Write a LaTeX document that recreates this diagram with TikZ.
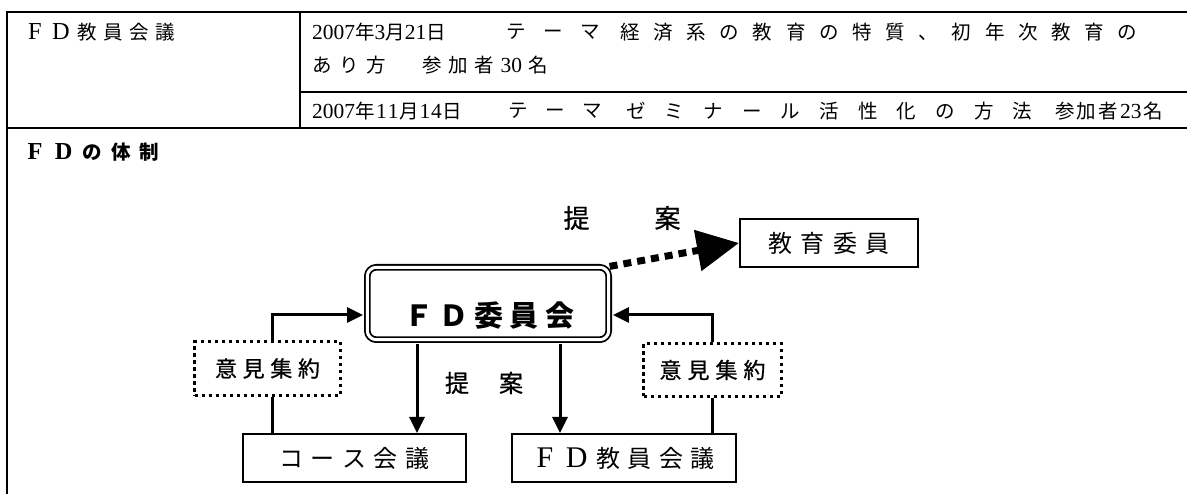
\documentclass[tikz,border=0pt]{standalone}
\usepackage{fontspec}
\setmainfont{Noto Sans CJK JP}
\newfontfamily\jpmed[FakeBold=0.8]{Noto Sans CJK JP}
\newfontfamily\ser{Liberation Serif}
\usetikzlibrary{arrows.meta}
\makeatletter
\newcommand\spreadtext[2]{\hbox to #1{\def\sp@sep{}\@tfor\sp@tok:=#2\do{\sp@sep\sp@tok\def\sp@sep{\hfil}}}}
\makeatother
\newcommand\fwl[1]{\makebox[1em]{\scalebox{1.25}{\ser #1}}}
\newcommand\fwb[1]{\makebox[1em]{\scalebox{1.25}{\ser\bfseries #1}}}
\newcommand\dg[1]{\scalebox{1.1}{\ser #1}}
\begin{document}
\begin{tikzpicture}[x=1pt,y=-1pt,
  tbl/.style={line width=2.2pt},
  txt/.style={inner sep=0pt, anchor=west, font=\fontsize{19.5pt}{19.5pt}\selectfont},
  box/.style={draw, line width=2pt, inner sep=0pt, font=\fontsize{24pt}{24pt}\selectfont},
  dbox/.style={draw, line width=3.2pt, dash pattern=on 3.5pt off 3.5pt, inner sep=0pt, font=\fontsize{22pt}{22pt}\selectfont\jpmed},
  fdbox/.style={draw, rounded corners=9pt, double=white, double distance=3pt, line width=1.8pt, inner sep=0pt},
  arr/.style={line width=3pt, -{Triangle[length=16pt,width=15pt]}},
  ln/.style={line width=3pt},
  dotarr/.style={line width=7pt, dash pattern=on 8pt off 6pt, -{Triangle[length=42pt,width=40pt]}},
  lbl/.style={inner sep=0pt}
]
\useasboundingbox (0,0) rectangle (1187,494);
% table
\draw[tbl] (7,12) -- (1187,12);
\draw[tbl] (7,11) -- (7,494);
\draw[tbl] (300,12) -- (300,128);
\draw[tbl] (300,92) -- (1187,92);
\draw[tbl] (7,128) -- (1187,128);
\node[txt] (c1) at (25,32) {\spreadtext{150pt}{{{\fwl F}}{{\fwl D}}教員会議}};
\node[txt] (r1a) at (312,32) {\dg{2007}年\dg{3}月\dg{21}日};
\node[txt] (r1b) at (506,32) {\spreadtext{94pt}{テーマ}};
\node[txt] (r1c) at (620,32) {\spreadtext{517pt}{経済系の教育の特質、初年次教育の}};
\node[txt] (r2a) at (312,65) {\spreadtext{74pt}{あり方}};
\node[txt] (r2b) at (422,65) {\spreadtext{126pt}{参加者{{\dg{30}}}名}};
\node[txt] (r3a) at (312,111) {\spreadtext{150pt}{{{\dg{2007}}}年{{\dg{1}}}{{\dg{1}}}月{{\dg{1}}}{{\dg{4}}}日}};
\node[txt] (r3b) at (508,111) {\spreadtext{94pt}{テーマ}};
\node[txt] (r3c) at (626,111) {\spreadtext{406pt}{ゼミナール活性化の方法}};
\node[txt] (r3d) at (1055,111) {\spreadtext{108pt}{参加者{{\dg{23}}}名}};
\node[txt, font=\fontsize{19.5pt}{19.5pt}\selectfont\bfseries] (h2) at (25,152) {\spreadtext{134pt}{{{\fwb F}}{{\fwb D}}の体制}};
% diagram
\node[fdbox, minimum width=241.4pt, minimum height=72.4pt] (fdc) at (488,303.5) {};
\node[lbl, font=\fontsize{29pt}{29pt}\selectfont\bfseries] (fdt) at (489,316) {\spreadtext{170pt}{ＦＤ委員会}};
\node[box, minimum width=178pt, minimum height=48pt] (kyoiku) at (829,243) {\spreadtext{122pt}{教育委員}};
\node[box, minimum width=223pt, minimum height=48pt] (course) at (354.5,458) {\spreadtext{150pt}{コース会議}};
\node[box, minimum width=224pt, minimum height=48pt] (fdk) at (624,458) {\spreadtext{182pt}{{{\fwl F}}{{\fwl D}}教員会議}};
\node[dbox, minimum width=145.8pt, minimum height=53.8pt] (ikenL) at (267.5,368.5) {\spreadtext{105pt}{意見集約}};
\node[dbox, minimum width=137.8pt, minimum height=52.8pt] (ikenR) at (712.5,370) {\spreadtext{106pt}{意見集約}};
\node[lbl, font=\fontsize{26pt}{26pt}\selectfont\jpmed] (tteian1) at (622,218) {\spreadtext{117pt}{提案}};
\node[lbl, font=\fontsize{24pt}{24pt}\selectfont\jpmed] (tteian2) at (484,383) {\spreadtext{78pt}{提案}};
% connectors
\draw[dotarr] (fdc.north east) -- (kyoiku.west);
\draw[arr, shorten <=3.3pt] (fdc.south -| 417,0) -- (course.north -| 417,0);
\draw[arr, shorten <=3.3pt] (fdc.south -| 560,0) -- (fdk.north -| 560,0);
\draw[arr, shorten >=3.3pt] (ikenL.north -| 272,0) |- (fdc.west |- 0,315);
\draw[ln] (ikenL.south -| 272,0) -- (course.north -| 272,0);
\draw[arr, shorten >=3.3pt] (ikenR.north -| 712,0) |- (fdc.east |- 0,315);
\draw[ln] (ikenR.south -| 712,0) -- (fdk.north -| 712,0);
\end{tikzpicture}
\end{document}
